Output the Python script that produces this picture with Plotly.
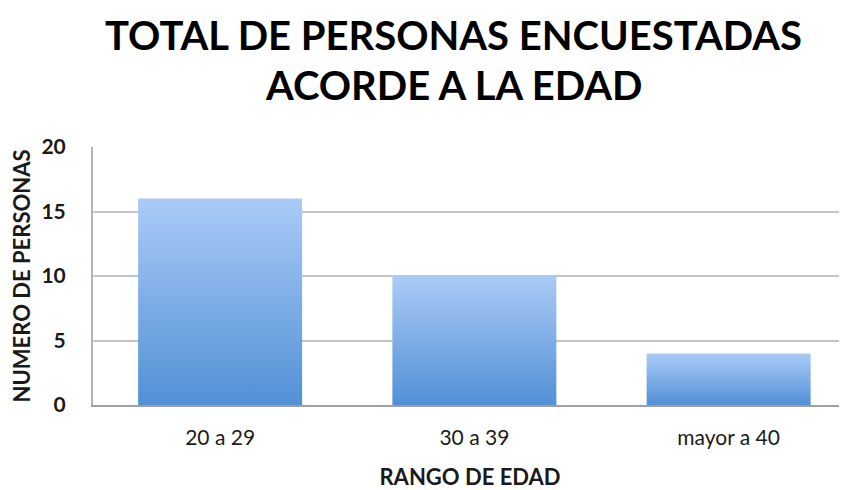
import plotly.graph_objects as go

categories = ["20 a 29", "30 a 39", "mayor a 40"]
values = [16, 10, 4]
y_ticks = [0, 5, 10, 15, 20]

title_lines = ["TOTAL DE PERSONAS ENCUESTADAS", "ACORDE A LA EDAD"]
x_title = "RANGO DE EDAD"
y_title = "NUMERO DE PERSONAS"

FONT = "Lato, 'Open Sans', sans-serif"
half_w = 0.3225
cat_px = 254.25  # pixel width of one category slot

# page body has an 8px margin: size the figure to fit the 847x490 window
W, H = 839, 482
ML, MT, MB, MR = 85, 139, 85, 0
plot_h = H - MT - MB
plot_w = W - ML - MR

fig = go.Figure()
for i, (cat, v) in enumerate(zip(categories, values)):
    xs = [i - half_w, i + half_w, i + half_w, i - half_w, i - half_w]
    ys = [0, 0, v, v, 0]
    fig.add_trace(go.Scatter(
        x=xs, y=ys, mode="lines", fill="toself",
        line=dict(width=0, color="rgba(0,0,0,0)"),
        fillgradient=dict(type="vertical",
                          colorscale=[[0, "#5290d6"], [1, "#aacbf7"]],
                          start=0, stop=v),
        name=cat, showlegend=False, hoverinfo="skip",
    ))

title_y = [27, 77]
for line, yp in zip(title_lines, title_y):
    fig.add_annotation(
        text=line, xref="paper", yref="paper", x=(445 - ML) / plot_w,
        y=(H - MB - yp) / plot_h, xanchor="center", yanchor="middle",
        showarrow=False, font=dict(family=FONT, size=40, color="black", weight="bold"),
    )

fig.update_layout(
    width=W, height=H,
    margin=dict(l=ML, r=MR, t=MT, b=MB),
    paper_bgcolor="white", plot_bgcolor="white",
    font=dict(family=FONT, color="#1a1a1a"),
)
fig.update_xaxes(
    range=[-0.5, -0.5 + plot_w / cat_px], tickmode="array",
    tickvals=list(range(len(categories))),
    ticktext=categories, tickfont=dict(size=21, color="#1a1a1a"),
    showgrid=False, zeroline=False, automargin=False,
    showline=True, linecolor="#a0a0a0", linewidth=2,
    ticks="outside", ticklen=13, tickcolor="rgba(0,0,0,0)",
    title=dict(text=x_title, font=dict(size=22, weight="bold", color="#1a1a1a"), standoff=23),
)
fig.update_yaxes(
    range=[0, 20], tickmode="array", tickvals=y_ticks,
    tickfont=dict(size=21, weight="bold", color="#1a1a1a"),
    showgrid=True, gridcolor="#c4c4c4", gridwidth=2, zeroline=False, automargin=False,
    showline=True, linecolor="#b4b4b4", linewidth=2, mirror=False,
    ticks="outside", ticklen=21, tickcolor="rgba(0,0,0,0)",
    title=dict(text=y_title, font=dict(size=22, weight="bold", color="#1a1a1a"), standoff=5),
)

fig.write_html("out.html")
